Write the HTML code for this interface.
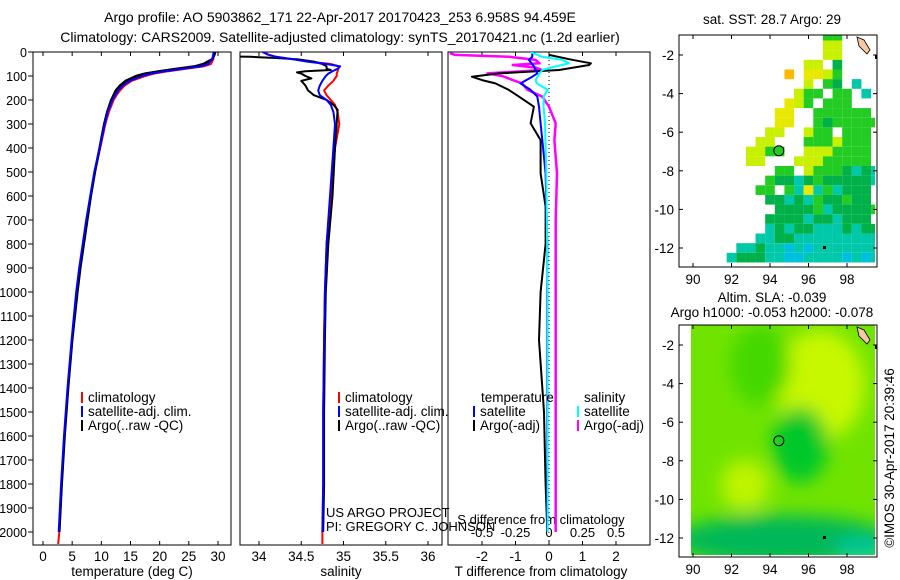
<!DOCTYPE html>
<html><head><meta charset="utf-8">
<style>
body{margin:0;background:#fff;}
svg{display:block;font-family:"Liberation Sans",sans-serif;font-size:13.5px;}
</style></head>
<body>
<svg id="fig" width="900" height="580" viewBox="0 0 900 580" xmlns="http://www.w3.org/2000/svg">
<defs>
<clipPath id="c1"><rect x="33" y="52" width="198" height="493"/></clipPath>
<clipPath id="c2"><rect x="240" y="52" width="202" height="493"/></clipPath>
<clipPath id="c3"><rect x="448" y="52" width="202" height="493"/></clipPath>
<clipPath id="cm2"><rect x="691" y="35" width="184" height="230"/></clipPath>
<filter id="blur"><feGaussianBlur stdDeviation="9"/></filter>
</defs>
<text x="340" y="22" text-anchor="middle" font-size="14">Argo profile: AO 5903862_171 22-Apr-2017 20170423_253 6.958S 94.459E</text>
<text x="340" y="42" text-anchor="middle" font-size="14">Climatology: CARS2009. Satellite-adjusted climatology: synTS_20170421.nc (1.2d earlier)</text>
<g id="layer"></g>
</svg>
<script>
const NS="http://www.w3.org/2000/svg";
const svg=document.getElementById('layer');
function el(tag,attrs,parent){const e=document.createElementNS(NS,tag);for(const k in attrs)e.setAttribute(k,attrs[k]);(parent||svg).appendChild(e);return e;}

// ---------- data ----------
const tDepth=[0,10,30,50,60,70,80,90,100,120,140,160,180,200,250,300,400,500,600,700,800,900,1000,1200,1400,1600,1800,2000,2050];
const tClim=[29.3,29.3,29.2,28.8,27.5,24.5,21.5,19,17.5,15.2,14,13.2,12.6,12.1,11.3,10.7,9.8,8.9,8.2,7.5,6.9,6.3,5.8,5,4.3,3.7,3.2,2.8,2.6];
const tSat=[29.2,29.2,29.0,28.3,27,24,21,18.5,17,14.9,13.7,12.9,12.4,11.9,11.1,10.6,9.7,8.8,8.1,7.4,6.8,6.2,5.7,4.9,4.2,3.6,3.1,2.7];
const tArgo=[29.5,29.4,29,27.5,26,23,20,17.5,16,14.2,13.2,12.5,12.1,11.7,11,10.5,9.7,8.9,8.2,7.6,7,6.4,5.9,5.0,4.3,3.7,3.2,2.8];
const sDepth=[0,10,20,30,40,50,60,70,80,90,100,120,140,160,180,200,220,250,300,400,600,800,1000,1200,1500,1800,2000,2050];
const sClim=[34.08,34.1,34.2,34.4,34.6,34.85,34.95,34.94,34.93,34.92,34.92,34.88,34.82,34.77,34.8,34.85,34.9,34.93,34.95,34.9,34.85,34.8,34.78,34.77,34.76,34.76,34.75,34.75];
const sSat=[34.04,34.1,34.2,34.4,34.57,34.8,34.96,34.93,34.87,34.82,34.79,34.75,34.72,34.7,34.72,34.8,34.85,34.88,34.9,34.88,34.84,34.8,34.78,34.77,34.76,34.76,34.75];
const sArgoDepth=[18,20,25,30,40,50,60,70,75,80,85,90,100,110,120,140,160,180,200,220,240,300,400,600,800,1000,1200,1500,1800,2000];
const sArgo=[33.4,33.9,34.2,34.45,34.65,34.75,34.8,34.8,34.85,34.55,34.45,34.5,34.55,34.62,34.5,34.55,34.58,34.65,34.8,34.88,34.93,34.92,34.9,34.87,34.82,34.79,34.78,34.77,34.77,34.76];
const dtArgoDepth=[12,30,47,54,75,89,103,117,131,158,186,228,297,367,506,644,800,1000,1200,1500,1800,2000];
const dtArgo=[0,0.6,1.25,1.2,0.3,-1.5,-2.3,-2.0,-1.6,-1.2,-0.9,-0.45,-0.55,-0.25,-0.25,-0.1,-0.1,-0.25,-0.3,-0.15,-0.1,-0.05];
const dtSatDepth=[0,20,33,60,89,103,131,158,186,228,297,367,506,800,1200,2000];
const dtSat=[-0.5,-0.5,-0.6,-0.45,-0.35,-0.5,-0.85,-0.55,-0.35,-0.3,-0.25,-0.2,-0.1,-0.05,-0.05,-0.05];
const dsArgoDepth=[5,12,20,33,47,54,65,75,89,100,117,131,158,186,228,297,367,506,700,1000,1500,2000];
const dsArgo=[-0.74,-0.7,-0.3,-0.1,-0.07,-0.27,-0.1,-0.05,-0.46,-0.35,-0.27,-0.2,-0.16,-0.05,0,0.05,0.04,0.06,0.05,0.05,0.05,0.05];
const dsSatDepth=[0,20,33,47,60,75,89,117,131,158,186,228,297,506,1000,2000];
const dsSat=[-0.14,-0.05,0.1,0.15,0.05,-0.05,-0.07,-0.1,-0.09,-0.01,-0.04,-0.04,-0.03,-0.02,-0.01,-0.01];
const depthTicks=[0,100,200,300,400,500,600,700,800,900,1000,1100,1200,1300,1400,1500,1600,1700,1800,1900,2000];
const tTicks=[0,5,10,15,20,25,30];
const sTicks=[34,34.5,35,35.5,36];
const dtTicks=[-2,-1,0,1,2];
const dsTicks=[-0.5,-0.25,0,0.25,0.5];
const dsTickLabels=['-0.5','-0.25','0','0.25','0.5'];

// ---------- scales ----------
const yD=d=>52+d*0.24;
const xT=v=>43+v*5.833;
const xS=v=>259+(v-34)*84.5;
const xDT=v=>549+v*33.5;
const xDS=v=>549+v*134;

function line(xs,ds,xf,color,w,clip,name){
  const pts=xs.map((v,i)=>xf(v).toFixed(1)+','+yD(ds[i]).toFixed(1)).join(' ');
  const p=el('polyline',{points:pts,fill:'none',stroke:color,'stroke-width':w,'clip-path':'url(#'+clip+')','stroke-linejoin':'round'});
  
  
}
function panel(x0,x1,name){
  const r=el('rect',{x:x0,y:52,width:x1-x0,height:493,fill:'none',stroke:'#000','stroke-width':1});
  
  
}
function xticks(vals,labels,xf,yl,name){
  vals.forEach((v,i)=>{
    const x=xf(v);
    el('line',{x1:x,y1:545,x2:x,y2:541,stroke:'#000'});
    el('line',{x1:x,y1:52,x2:x,y2:56,stroke:'#000'});
    const t=el('text',{x:x,y:yl,'text-anchor':'middle'});t.textContent=labels[i];
    
    
  });
}

panel(33,231,'temperature-panel');panel(240,442,'salinity-panel');panel(448,650,'difference-panel');
depthTicks.forEach(d=>{
  el('line',{x1:28,y1:yD(d),x2:33,y2:yD(d),stroke:'#000'});
  const t=el('text',{x:27,y:yD(d)+5,'text-anchor':'end','font-size':12.5});t.textContent=d;
  
  
});
xticks(tTicks,tTicks.map(String),xT,561,'temperature-tick-label');
xticks(sTicks,sTicks.map(String),xS,561,'salinity-tick-label');
xticks(dtTicks,dtTicks.map(String),xDT,561,'t-diff-tick-label');
dsTicks.forEach((v,i)=>{const t=el('text',{x:xDS(v),y:537,'text-anchor':'middle','font-size':13});t.textContent=dsTickLabels[i];
  
  });
[['temperature (deg C)',132],['salinity',341],['T difference from climatology',541]].forEach(([s,x])=>{
  const t=el('text',{x:x,y:576,'text-anchor':'middle'});t.textContent=s;
  
  });
{const t=el('text',{x:541,y:524,'text-anchor':'middle','font-size':13});t.textContent='S difference from climatology';
  
  }
el('line',{x1:549,y1:52,x2:549,y2:545,stroke:'#000','stroke-dasharray':'1,3'});

line(tClim,tDepth,xT,'#f00',2,'c1','temp-climatology-line');
line(tArgo,tDepth,xT,'#000',2.5,'c1','temp-argo-line');
line(tSat,tDepth,xT,'#00f',2,'c1','temp-satellite-line');
line(sClim,sDepth,xS,'#f00',2,'c2','sal-climatology-line');
line(sArgo,sArgoDepth,xS,'#000',2,'c2','sal-argo-line');
line(sSat,sDepth,xS,'#00f',2,'c2','sal-satellite-line');
line(dsArgo,dsArgoDepth,xDS,'#f0f',2.5,'c3','s-diff-argo-line');
line(dtArgo,dtArgoDepth,xDT,'#000',2,'c3','t-diff-argo-line');
line(dtSat,dtSatDepth,xDT,'#00f',2,'c3','t-diff-satellite-line');
line(dsSat,dsSatDepth,xDS,'#0ff',2,'c3','s-diff-satellite-line');

function legend(x,y,color,label,name){
  el('line',{x1:x,y1:y-10,x2:x,y2:y+1,stroke:color,'stroke-width':2});
  const t=el('text',{x:x+6,y:y});t.textContent=label;
  
  
}
legend(82,402,'#f00','climatology','legend-climatology');
legend(82,416,'#00f','satellite-adj. clim.','legend-satellite');
legend(82,430,'#000','Argo(..raw -QC)','legend-argo');
legend(339,402,'#f00','climatology','legend-climatology-2');
legend(339,416,'#00f','satellite-adj. clim.','legend-satellite-2');
legend(339,430,'#000','Argo(..raw -QC)','legend-argo-2');
{const t=el('text',{x:481,y:402});t.textContent='temperature';}
{const t=el('text',{x:584,y:402});t.textContent='salinity';}
legend(474,416,'#00f','satellite','legend-t-satellite');
legend(474,430,'#000','Argo(-adj)','legend-t-argo');
legend(578,416,'#0ff','satellite','legend-s-satellite');
legend(578,430,'#f0f','Argo(-adj)','legend-s-argo');
{const t=el('text',{x:326,y:517,'font-size':13});t.textContent='US ARGO PROJECT';}
{const t=el('text',{x:326,y:531,'font-size':13});t.textContent='PI: GREGORY C. JOHNSON';}

// ---------- maps ----------
const mx=lon=>693+(lon-90)*19.25;
const my=lat=>55+(-2-lat)*19.3;
const lonTicks=[90,92,94,96,98];
const latTicks=[-2,-4,-6,-8,-10,-12];
const sstGrid=[
"...............gg....",
"...............ll....",
"...............ll....",
".............ll.G....",
"...........o.yylg....",
".............l.gG.c..",
"............lgg.gg.c.",
"...........ylg.ggg...",
"..........yy..gggggg.",
"..........yy..gGggggg",
".........ll..lgg.ggg.",
"........ll...ggglggg.",
".......llgg..lllgggg.",
".......ll...lllggggg.",
"..........gg.lgggGcGc",
".........gGGcGgGGGGGc",
"........gg.gcycgcGGG.",
".........GGcGcgGGgGG.",
"..........GGGGgcGGGGg",
".........GGGGcGGcGGG.",
".........cGcGGcccGcGG",
"........ccGGccccccccc",
"......ccGccbcbccccccc",
".....cGGGccbbccccbcbc"];
const sstColors={o:'#ffb800',y:'#e8e800',l:'#c8f000',g:'#22cc22',G:'#00b048',c:'#00c8a8',b:'#00c0e0'};

function mapFrame(y0,y1,name){
  const r=el('rect',{x:679,y:y0,width:198,height:y1-y0,fill:'none',stroke:'#000'});
  
  
  const off=y0-35;
  lonTicks.forEach(l=>{const x=mx(l);el('line',{x1:x,y1:y1,x2:x,y2:y1-4,stroke:'#000'});el('line',{x1:x,y1:y0,x2:x,y2:y0+4,stroke:'#000'});
    const t=el('text',{x:x,y:y1+17,'text-anchor':'middle'});t.textContent=l;});
  latTicks.forEach(l=>{const y=my(l)+off;el('line',{x1:679,y1:y,x2:683,y2:y,stroke:'#000'});el('line',{x1:877,y1:y,x2:873,y2:y,stroke:'#000'});
    const t=el('text',{x:674,y:y+5,'text-anchor':'end'});t.textContent=l;});
}
sstGrid.forEach((row,r)=>{
  for(let c=0;c<row.length;c++){const ch=row[c];if(ch==='.')continue;
    const lon=89.5+0.5*c, lat=-1-0.5*r;
    const x=Math.max(679,mx(lon-0.25)), x2=Math.min(875,mx(lon+0.25));
    const y=Math.max(35,my(lat+0.25)), y2=Math.min(265,my(lat-0.25));
    const cell=el('rect',{x:x,y:y,width:x2-x,height:y2-y,fill:sstColors[ch]});
    
    }
});
mapFrame(35,267,'sst-map');
{const t=el('text',{x:772,y:24,'text-anchor':'middle'});t.textContent='sat. SST: 28.7 Argo: 29';}
{const c=el('circle',{cx:mx(94.459),cy:my(-6.958),r:5,fill:'#22cc22',stroke:'#000'});}
function land(off){
  el('path',{d:`M857 ${37+off} L864 ${40+off} L870 ${50+off} L867 ${54+off} L859 ${46+off} Z`,fill:'#f8c8a0',stroke:'#000','stroke-width':0.8});
  el('rect',{x:875,y:55+off,width:2,height:4,fill:'#000'});
  el('rect',{x:823,y:246+off,width:3,height:3,fill:'#000'});
}
land(0);

const g2=el('g',{'clip-path':'url(#cm2)',transform:'translate(0,290)'});


el('rect',{x:691,y:35,width:184,height:230,fill:'#70e400'},g2);
const gb=el('g',{filter:'url(#blur)'},g2);
el('ellipse',{cx:820,cy:95,rx:45,ry:55,fill:'#c8f800'},gb);
el('ellipse',{cx:760,cy:75,rx:30,ry:40,fill:'#44d800'},gb);
el('ellipse',{cx:800,cy:155,rx:28,ry:38,fill:'#00c82c'},gb);
el('ellipse',{cx:745,cy:195,rx:24,ry:25,fill:'#c0f400'},gb);
el('ellipse',{cx:783,cy:250,rx:110,ry:25,fill:'#00b858'},gb);
el('ellipse',{cx:860,cy:260,rx:25,ry:12,fill:'#00c8a0'},gb);
el('rect',{x:679,y:325,width:12,height:230,fill:'#fff'});
mapFrame(325,557,'sla-map');
land(290);
{const c=el('circle',{cx:mx(94.459),cy:my(-6.958)+290,r:5,fill:'none',stroke:'#000'});}
{const t=el('text',{x:772,y:302,'text-anchor':'middle'});t.textContent='Altim. SLA: -0.039';}
{const t=el('text',{x:772,y:317,'text-anchor':'middle'});t.textContent='Argo h1000: -0.053 h2000: -0.078';}
{const t=el('text',{x:0,y:0,'text-anchor':'middle',transform:'translate(894,458) rotate(-90)'});t.textContent='©IMOS 30-Apr-2017 20:39:46';}
</script>
</body></html>
